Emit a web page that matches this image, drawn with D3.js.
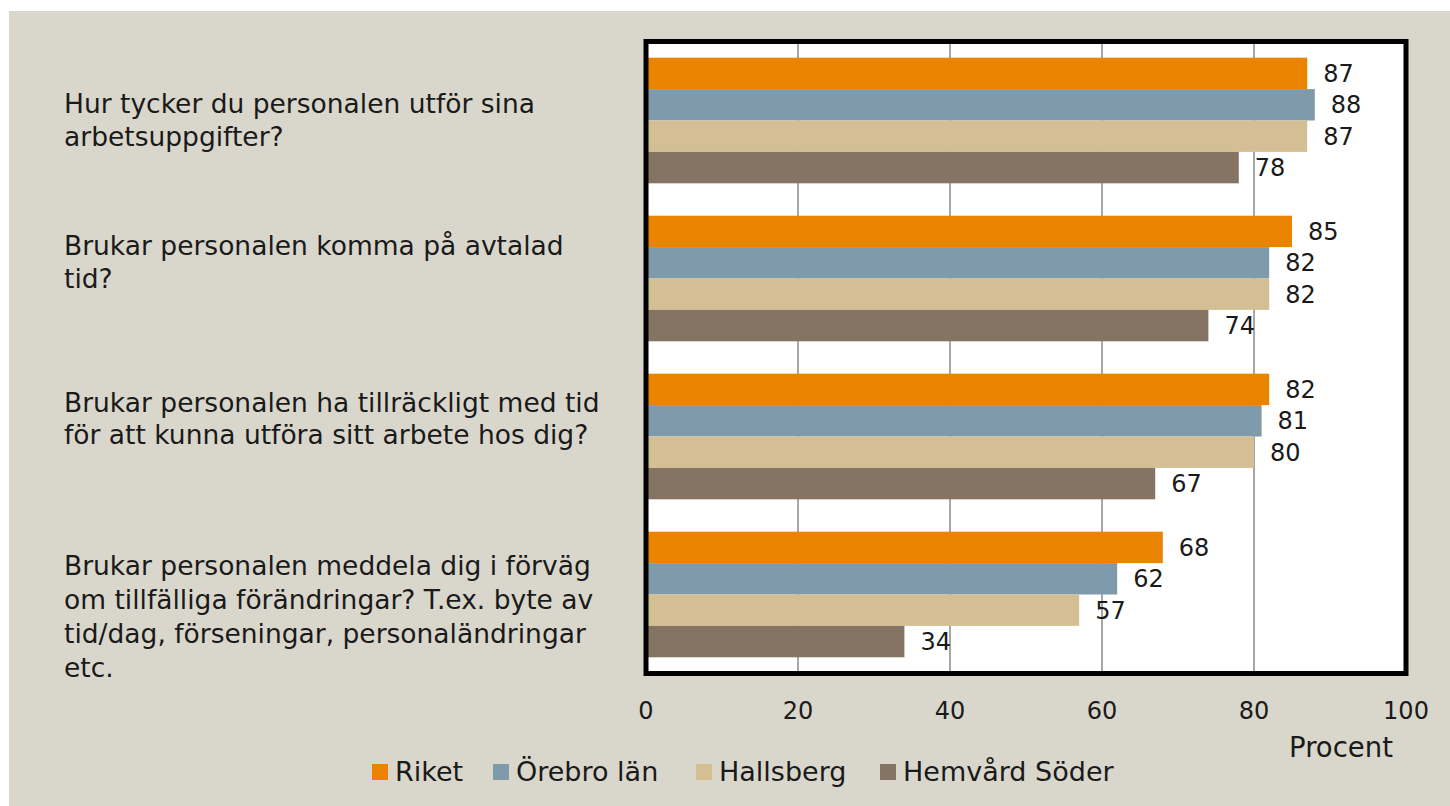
<!DOCTYPE html>
<html>
<head>
<meta charset="utf-8">
<script src="https://cdn.jsdelivr.net/npm/d3@7"></script>
<style>
  html, body { margin: 0; padding: 0; background: #ffffff; }
  svg { display: block; font-family: "DejaVu Sans", sans-serif; }
</style>
</head>
<body>
<div id="chart"></div>
<script>
// --- DATA ---
const questions = [
  ["Hur tycker du personalen utför sina", "arbetsuppgifter?"],
  ["Brukar personalen komma på avtalad", "tid?"],
  ["Brukar personalen ha tillräckligt med tid", "för att kunna utföra sitt arbete hos dig?"],
  ["Brukar personalen meddela dig i förväg", "om tillfälliga förändringar? T.ex. byte av", "tid/dag, förseningar, personaländringar", "etc."]
];
const seriesNames = ["Riket", "Örebro län", "Hallsberg", "Hemvård Söder"];
const riket = [87, 85, 82, 68];
const orebroLan = [88, 82, 81, 62];
const hallsberg = [87, 82, 80, 57];
const hemvardSoder = [78, 74, 67, 34];
const xTicks = [0, 20, 40, 60, 80, 100];
const axisTitle = "Procent";

// --- LAYOUT ---
const W = 1450, H = 806;
const colors = ["#ea8300", "#7e9aab", "#d4bf95", "#857463"];
const bg = "#d9d7cb";
const plot = { left: 646, right: 1406, top: 41.5, bottom: 673.5 };
const labelShift = [9, -7, -9, 31]; // Excel placed each category block slightly differently
const lineH = [32.5, 32.5, 32, 34];
const textSize = 26.5;

const seriesValues = [riket, orebroLan, hallsberg, hemvardSoder];

const svg = d3.select("#chart").append("svg")
  .attr("width", W).attr("height", H);

svg.append("rect").attr("x", 9).attr("y", 11)
  .attr("width", W - 9).attr("height", H - 11).attr("fill", bg);

const x = d3.scaleLinear().domain([0, 100]).range([plot.left, plot.right]);
const y0 = d3.scaleBand().domain(d3.range(questions.length))
  .range([plot.top, plot.bottom]).paddingInner(0.205).paddingOuter(0.1025);
const y1 = d3.scaleBand().domain(d3.range(seriesNames.length))
  .range([0, y0.bandwidth()]);

// plot background
svg.append("rect")
  .attr("x", plot.left).attr("y", plot.top)
  .attr("width", plot.right - plot.left).attr("height", plot.bottom - plot.top)
  .attr("fill", "#ffffff");

// gridlines
svg.append("g").selectAll("line")
  .data(xTicks.slice(1, -1))
  .join("line")
  .attr("x1", d => x(d)).attr("x2", d => x(d))
  .attr("y1", plot.top).attr("y2", plot.bottom)
  .attr("stroke", "#8a8a8a").attr("stroke-width", 1.5);

// bars
const groups = svg.append("g").selectAll("g")
  .data(questions.map((q, i) => i))
  .join("g")
  .attr("transform", i => `translate(0,${y0(i)})`);

groups.selectAll("rect")
  .data(i => seriesValues.map((s, j) => ({ j, v: s[i] })))
  .join("rect")
  .attr("x", x(0))
  .attr("y", d => y1(d.j))
  .attr("width", d => x(d.v) - x(0))
  .attr("height", y1.bandwidth())
  .attr("fill", d => colors[d.j]);

groups.selectAll("text")
  .data(i => seriesValues.map((s, j) => ({ j, v: s[i] })))
  .join("text")
  .attr("x", d => x(d.v) + 16)
  .attr("y", d => y1(d.j) + y1.bandwidth() / 2 + 8.5)
  .attr("font-size", 24)
  .attr("fill", "#1a1a1a")
  .text(d => d.v);

// frame
svg.append("rect")
  .attr("x", plot.left).attr("y", plot.top)
  .attr("width", plot.right - plot.left).attr("height", plot.bottom - plot.top)
  .attr("fill", "none").attr("stroke", "#000").attr("stroke-width", 5);

// x tick labels
svg.append("g").selectAll("text")
  .data(xTicks)
  .join("text")
  .attr("x", d => x(d))
  .attr("y", 719)
  .attr("text-anchor", "middle")
  .attr("font-size", 24)
  .attr("fill", "#1a1a1a")
  .text(d => d);

svg.append("text")
  .attr("x", 1341).attr("y", 757)
  .attr("text-anchor", "middle")
  .attr("font-size", 27.5)
  .attr("fill", "#1a1a1a")
  .text(axisTitle);

// category labels (labelShift is relative to the mean baseline of the block)
questions.forEach((lines, i) => {
  const cy = y0(i) + y0.bandwidth() / 2 + labelShift[i];
  const firstBase = cy - (lines.length - 1) * lineH[i] / 2;
  svg.append("text")
    .attr("font-size", textSize)
    .attr("fill", "#1a1a1a")
    .selectAll("tspan")
    .data(lines)
    .join("tspan")
    .attr("x", 64)
    .attr("y", (d, k) => firstBase + k * lineH[i])
    .text(d => d);
});

// legend
const legendX = [372, 493, 696, 880];
const legend = svg.append("g").selectAll("g")
  .data(seriesNames)
  .join("g")
  .attr("transform", (d, i) => `translate(${legendX[i]},764)`);
legend.append("rect").attr("width", 16).attr("height", 16)
  .attr("fill", (d, i) => colors[i]);
legend.append("text").attr("x", 23).attr("y", 16.5)
  .attr("font-size", 27)
  .attr("fill", "#1a1a1a")
  .text(d => d);
</script>
</body>
</html>
